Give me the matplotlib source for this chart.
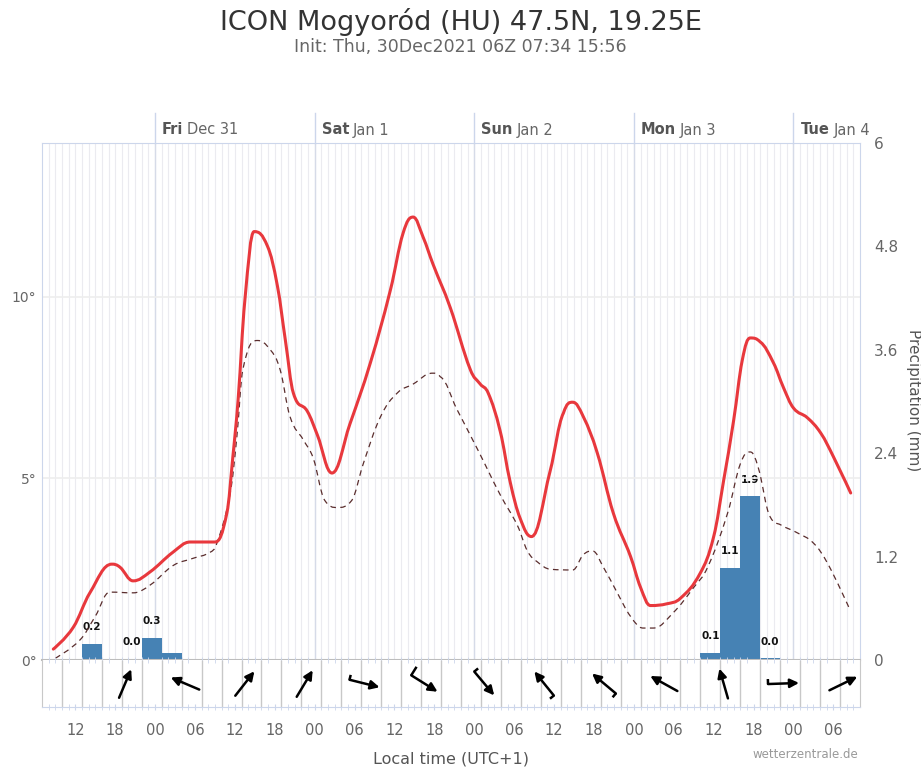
import numpy as np
import matplotlib
matplotlib.use('Agg')
import matplotlib.pyplot as plt
from matplotlib.path import Path
from matplotlib.patches import PathPatch
from matplotlib.transforms import blended_transform_factory

# time axis: hours since Thu 30 Dec 2021 00:00 local time (UTC+1)
x_start, x_end = 7, 130

# 2 m temperature (°C)
temp_hours = [8.7, 11.7, 14.2, 17.5, 18.7, 20.7, 23.2, 26.7, 29.3, 33.0,
              34.8, 35.7, 36.5, 37.5, 38.9, 40.9, 42.4, 43.6, 44.8, 46.9,
              48.4, 50.6, 53.3, 56.4, 59.4, 61.3, 62.8, 64.3, 65.8, 68.4,
              71.4, 72.9, 74.1, 75.9, 77.4, 78.9, 80.6, 83.4, 85.4, 86.8,
              88.4, 90.5, 92.9, 95.5, 97.0, 98.5, 101.0, 103.0, 106.0, 108.0,
              109.5, 111.0, 112.3, 113.5, 115.0, 117.0, 118.5, 120.0, 122.1, 124.1,
              126.0, 128.6]
temp_vals = [0.3, 0.9, 1.85, 2.64, 2.56, 2.18, 2.42, 2.97, 3.25, 3.25,
             4.05, 5.6, 7.2, 9.9, 11.8, 11.4, 10.3, 8.8, 7.35, 6.85,
             6.2, 5.15, 6.5, 8.2, 10.2, 11.76, 12.2, 11.65, 10.9, 9.7,
             8.0, 7.6, 7.35, 6.3, 4.9, 3.9, 3.4, 5.2, 6.8, 7.1,
             6.7, 5.7, 4.05, 2.85, 2.0, 1.5, 1.55, 1.7, 2.4, 3.4,
             4.95, 6.6, 8.26, 8.87, 8.76, 8.18, 7.5, 6.94, 6.67, 6.25,
             5.6, 4.6]

# dew point (°C)
dew_hours = [9.0, 12.7, 15.0, 17.2, 20.7, 23.3, 26.7, 29.7, 32.3, 33.3,
             35.3, 36.3, 37.2, 39.4, 41.3, 42.8, 44.3, 46.3, 47.8, 49.5,
             51.4, 53.6, 55.3, 57.9, 60.4, 62.8, 65.7, 66.9, 69.4, 72.5,
             75.9, 78.5, 80.0, 81.5, 83.4, 86.8, 88.4, 89.8, 91.4, 93.5,
             95.5, 97.4, 98.9, 101.9, 105.0, 107.1, 110.1, 112.0, 113.5, 114.7,
             116.5, 118.1, 120.6, 123.0, 125.1, 128.3]
dew_vals = [0.05, 0.55, 1.2, 1.87, 1.85, 2.07, 2.6, 2.8, 2.97, 3.22,
            4.6, 6.15, 8.0, 8.8, 8.55, 8.0, 6.7, 6.06, 5.55, 4.4,
            4.2, 4.4, 5.4, 6.7, 7.35, 7.6, 7.9, 7.8, 6.9, 5.8,
            4.55, 3.7, 3.0, 2.7, 2.5, 2.48, 2.9, 3.0, 2.56, 1.85,
            1.2, 0.88, 0.88, 1.3, 2.0, 2.56, 4.05, 5.4, 5.73, 5.3,
            3.94, 3.72, 3.5, 3.22, 2.67, 1.46]

# 3-hourly precipitation (mm), bar start hour
precip_start = [13, 19, 22, 25, 106, 109, 112, 115]
precip_mm = [0.19, 0.01, 0.26, 0.08, 0.08, 1.07, 1.9, 0.02]
precip_label_shown = [True, True, True, False, True, True, True, True]

# wind: direction it blows from (deg) and barb (0 none, 0.5 half, 1 full)
wind_hours = [19.5, 28.5, 37.5, 46.5, 55.5, 64.5, 73.5, 82.5, 91.5, 100.5, 109.5, 118.5, 127.5]
wind_dir = [203, 113, 218, 211, 284, 302, 320, 141, 130, 119, 164, 268, 244]
wind_barb = [0, 0, 0, 0, 0.5, 1, 0.5, 0.5, 0.5, 0, 0, 0.5, 0]

day_hours = [24, 48, 72, 96, 120]
day_names = ['Fri', 'Sat', 'Sun', 'Mon', 'Tue']
day_dates = ['Dec 31', 'Jan 1', 'Jan 2', 'Jan 3', 'Jan 4']

temp_ticks = [0, 5, 10]
precip_ticks = [0, 1.2, 2.4, 3.6, 4.8, 6]
hour_ticks = list(range(12, 130, 6))

W, H = 921, 768
fig = plt.figure(figsize=(W / 100, H / 100), dpi=100)


def rect(l, t, r, b):
    return [l / W, 1 - b / H, (r - l) / W, (b - t) / H]


def spline_path(xs, ys, smoothing=1.5):
    # smooth bezier through the points, the way the web chart draws its splines
    xs, ys = list(xs), list(ys)
    n = len(xs)
    denom = smoothing + 1
    left, right = [], []
    for i in range(n):
        if i == 0 or i == n - 1:
            left.append((xs[i], ys[i]))
            right.append((xs[i], ys[i]))
            continue
        lx = (smoothing * xs[i] + xs[i - 1]) / denom
        ly = (smoothing * ys[i] + ys[i - 1]) / denom
        rx = (smoothing * xs[i] + xs[i + 1]) / denom
        ry = (smoothing * ys[i] + ys[i + 1]) / denom
        corr = (ry - ly) * (rx - xs[i]) / (rx - lx) + ys[i] - ry
        ly += corr
        ry += corr
        if ly > max(ys[i - 1], ys[i]):
            ly = max(ys[i - 1], ys[i]); ry = 2 * ys[i] - ly
        elif ly < min(ys[i - 1], ys[i]):
            ly = min(ys[i - 1], ys[i]); ry = 2 * ys[i] - ly
        if ry > max(ys[i + 1], ys[i]):
            ry = max(ys[i + 1], ys[i]); ly = 2 * ys[i] - ry
        elif ry < min(ys[i + 1], ys[i]):
            ry = min(ys[i + 1], ys[i]); ly = 2 * ys[i] - ry
        left.append((lx, ly))
        right.append((rx, ry))
    verts = [(xs[0], ys[0])]
    codes = [Path.MOVETO]
    for i in range(1, n):
        verts += [right[i - 1], left[i], (xs[i], ys[i])]
        codes += [Path.CURVE4] * 3
    return Path(verts, codes)


ax_p = fig.add_axes(rect(42, 143, 860, 660))
ax_t = fig.add_axes(rect(42, 143, 860, 660))
ax_w = fig.add_axes(rect(42, 660, 860, 707))
ax_t.patch.set_visible(False)
for a in (ax_p, ax_t, ax_w):
    a.set_xlim(x_start, x_end)

# background: hourly grid and day lines
ax_p.vlines(np.arange(x_start + 1, x_end), 0, 6, colors='#ebebf0', lw=0.8, zorder=0)
ax_p.vlines(day_hours, 0, 6, colors='#d6dbe8', lw=1, zorder=0)

# precipitation bars
ax_p.bar(precip_start, precip_mm, width=3, align='edge', color='#4682b4', zorder=3)
for s, v, show in zip(precip_start, precip_mm, precip_label_shown):
    if show:
        ax_p.annotate(f'{v:.1f}', (s + 1.5, v), xytext=(0, 12), textcoords='offset points',
                      ha='center', va='center', fontsize=7.5, fontweight='bold', color='#111')
ax_p.set_ylim(0, 6)
ax_p.yaxis.tick_right()
ax_p.set_yticks(precip_ticks)
ax_p.set_yticklabels(['0', '1.2', '2.4', '3.6', '4.8', '6'])
ax_p.tick_params(axis='y', length=0, pad=10, labelsize=11, labelcolor='#666')
ax_p.set_xticks([])
for sp in ax_p.spines.values():
    sp.set_visible(False)

# temperature and dew point
ax_t.set_ylim(0, 14.24)
ax_t.set_yticks(temp_ticks)
ax_t.set_yticklabels([f'{t}°' for t in temp_ticks])
ax_t.tick_params(axis='y', length=0, pad=4, labelsize=10, labelcolor='#666')
ax_t.set_xticks([])
ax_t.grid(axis='y', color='#eeeeee', lw=1.2)
ax_t.add_patch(PathPatch(spline_path(dew_hours, dew_vals), fill=False, edgecolor='#5a2d2d',
                         lw=0.9, ls=(0, (4.5, 3.5)), zorder=4))
ax_t.add_patch(PathPatch(spline_path(temp_hours, temp_vals), fill=False, edgecolor='#e8383d',
                         lw=2.2, capstyle='round', joinstyle='round', zorder=5))
for side in ('top', 'left', 'right'):
    ax_t.spines[side].set_color('#ccd6eb')
ax_t.spines['bottom'].set_color('#bdbdbd')
ax_t.spines['bottom'].set_linewidth(1.5)
ax_t.spines['bottom'].set_zorder(6)

# day labels along the top
top = blended_transform_factory(ax_t.transData, ax_t.transAxes)
renderer = fig.canvas.get_renderer()
for h, name, date in zip(day_hours, day_names, day_dates):
    ax_t.plot([h, h], [1, 1 + 30 / 517], transform=top, color='#ccd6eb', lw=1, clip_on=False)
    t1 = ax_t.annotate(name, (h, 1), xycoords=top, xytext=(7, 13), textcoords='offset pixels',
                       ha='left', va='center', fontsize=10.5, fontweight='bold', color='#555')
    w = t1.get_window_extent(renderer=renderer).width
    ax_t.annotate(date, (h, 1), xycoords=top, xytext=(7 + w + 4, 13), textcoords='offset pixels',
                  ha='left', va='center', fontsize=10.5, color='#666')

# wind panel
ax_w.set_ylim(0, 1)
ax_w.set_yticks([])
ax_w.vlines(np.arange(x_start + 3, x_end, 3), 0, 1, colors='#c8c8c8', lw=1)
ax_w.set_xticks(hour_ticks)
ax_w.set_xticklabels([f'{h % 24:02d}' for h in hour_ticks])
ax_w.set_xticks(np.arange(x_start + 1, x_end), minor=True)
ax_w.tick_params(axis='x', which='both', direction='inout', length=5, color='#ccd6eb',
                 labelsize=10.5, labelcolor='#666', pad=9)
ax_w.tick_params(axis='x', which='minor', top=True)
ax_w.spines['bottom'].set_color('#ccd6eb')
ax_w.spines['top'].set_visible(False)
ax_w.spines['left'].set_color('#c8c8c8')
ax_w.spines['right'].set_color('#c8c8c8')

inv = ax_w.transData.inverted()
arrow_len = 31
for h, d, b in zip(wind_hours, wind_dir, wind_barb):
    cx, cy = ax_w.transData.transform((h, 0.5))
    rad = np.deg2rad(d)
    ux, uy = -np.sin(rad), -np.cos(rad)
    tail = (cx - ux * arrow_len / 2, cy - uy * arrow_len / 2)
    head = (cx + ux * arrow_len / 2, cy + uy * arrow_len / 2)
    ax_w.annotate('', xy=inv.transform(head), xytext=inv.transform(tail),
                  arrowprops=dict(arrowstyle='-|>', color='black', lw=1.8,
                                  mutation_scale=13, shrinkA=0, shrinkB=0),
                  annotation_clip=False)
    if b > 0:
        bl = 10 * b
        p1 = (tail[0] - uy * bl, tail[1] + ux * bl)
        pts = inv.transform([tail, p1])
        ax_w.plot(pts[:, 0], pts[:, 1], color='black', lw=1.8, solid_capstyle='butt')

# texts
fig.text(0.5, 1 - 22 / H, 'ICON Mogyoród (HU) 47.5N, 19.25E', ha='center', va='center',
         fontsize=19.5, color='#333')
fig.text(0.5, 1 - 47 / H, 'Init: Thu, 30Dec2021 06Z 07:34 15:56', ha='center', va='center',
         fontsize=12.5, color='#666')
fig.text(451 / W, 1 - 759 / H, 'Local time (UTC+1)', ha='center', va='center',
         fontsize=11.5, color='#555')
fig.text(858 / W, 1 - 755 / H, 'wetterzentrale.de', ha='right', va='center',
         fontsize=8.5, color='#999')
fig.text(913 / W, 1 - 400 / H, 'Precipitation (mm)', ha='center', va='center',
         rotation=-90, fontsize=11, color='#555')

fig.savefig('out.png', dpi=100)
